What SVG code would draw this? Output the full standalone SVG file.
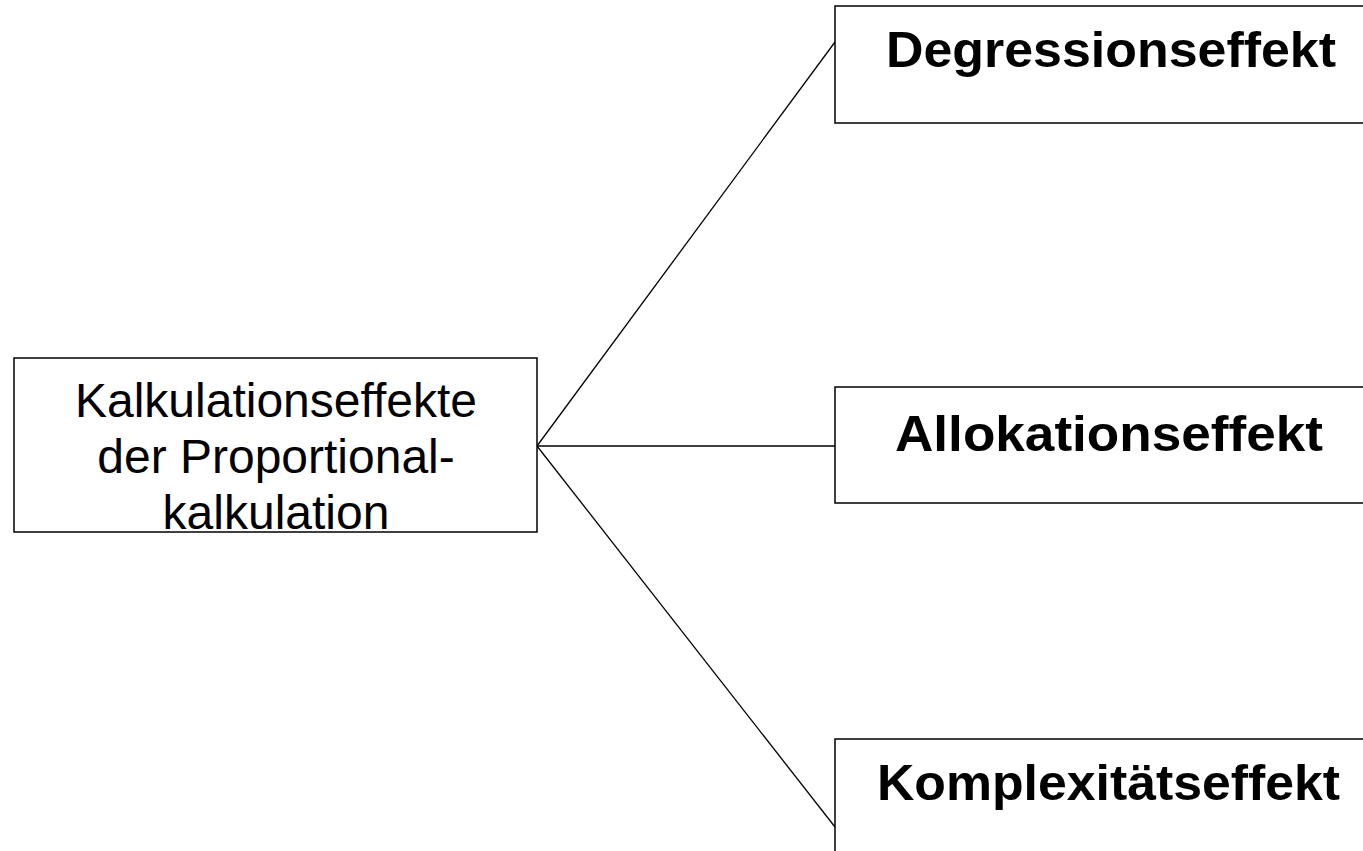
<svg xmlns="http://www.w3.org/2000/svg" width="1363" height="851" viewBox="0 0 1363 851">
  <style>
    .box { fill: #ffffff; stroke: #000000; stroke-width: 1.5; }
    .link { fill: none; stroke: #000000; stroke-width: 1.3; }
    .root { font-family: "Liberation Sans", Arial, sans-serif; font-size: 48px; fill: #000000; text-anchor: middle; }
    .leaf { font-family: "Liberation Sans", Arial, sans-serif; font-size: 50px; font-weight: bold; fill: #000000; }
  </style>
  <rect width="1363" height="851" fill="#ffffff"/>
  <g id="connectors">
    <line class="link" x1="537" y1="446" x2="835" y2="42"/>
    <line class="link" x1="537" y1="446" x2="835" y2="446"/>
    <line class="link" x1="537" y1="446" x2="835" y2="827"/>
  </g>
  <g id="node-root">
    <rect class="box" x="14" y="358" width="523" height="174"/>
    <text class="root" x="276" y="417">Kalkulationseffekte</text>
    <text class="root" x="276" y="473">der Proportional-</text>
    <text class="root" x="276" y="529">kalkulation</text>
  </g>
  <g id="node-degression">
    <rect class="box" x="835" y="6" width="600" height="117"/>
    <text class="leaf" x="886" y="67" textLength="450" lengthAdjust="spacingAndGlyphs">Degressionseffekt</text>
  </g>
  <g id="node-allokation">
    <rect class="box" x="835" y="387" width="600" height="116"/>
    <text class="leaf" x="895" y="451" textLength="428" lengthAdjust="spacingAndGlyphs">Allokationseffekt</text>
  </g>
  <g id="node-komplexitaet">
    <rect class="box" x="835" y="739" width="600" height="140"/>
    <text class="leaf" x="877" y="800" textLength="463" lengthAdjust="spacingAndGlyphs">Komplexitätseffekt</text>
  </g>
</svg>
